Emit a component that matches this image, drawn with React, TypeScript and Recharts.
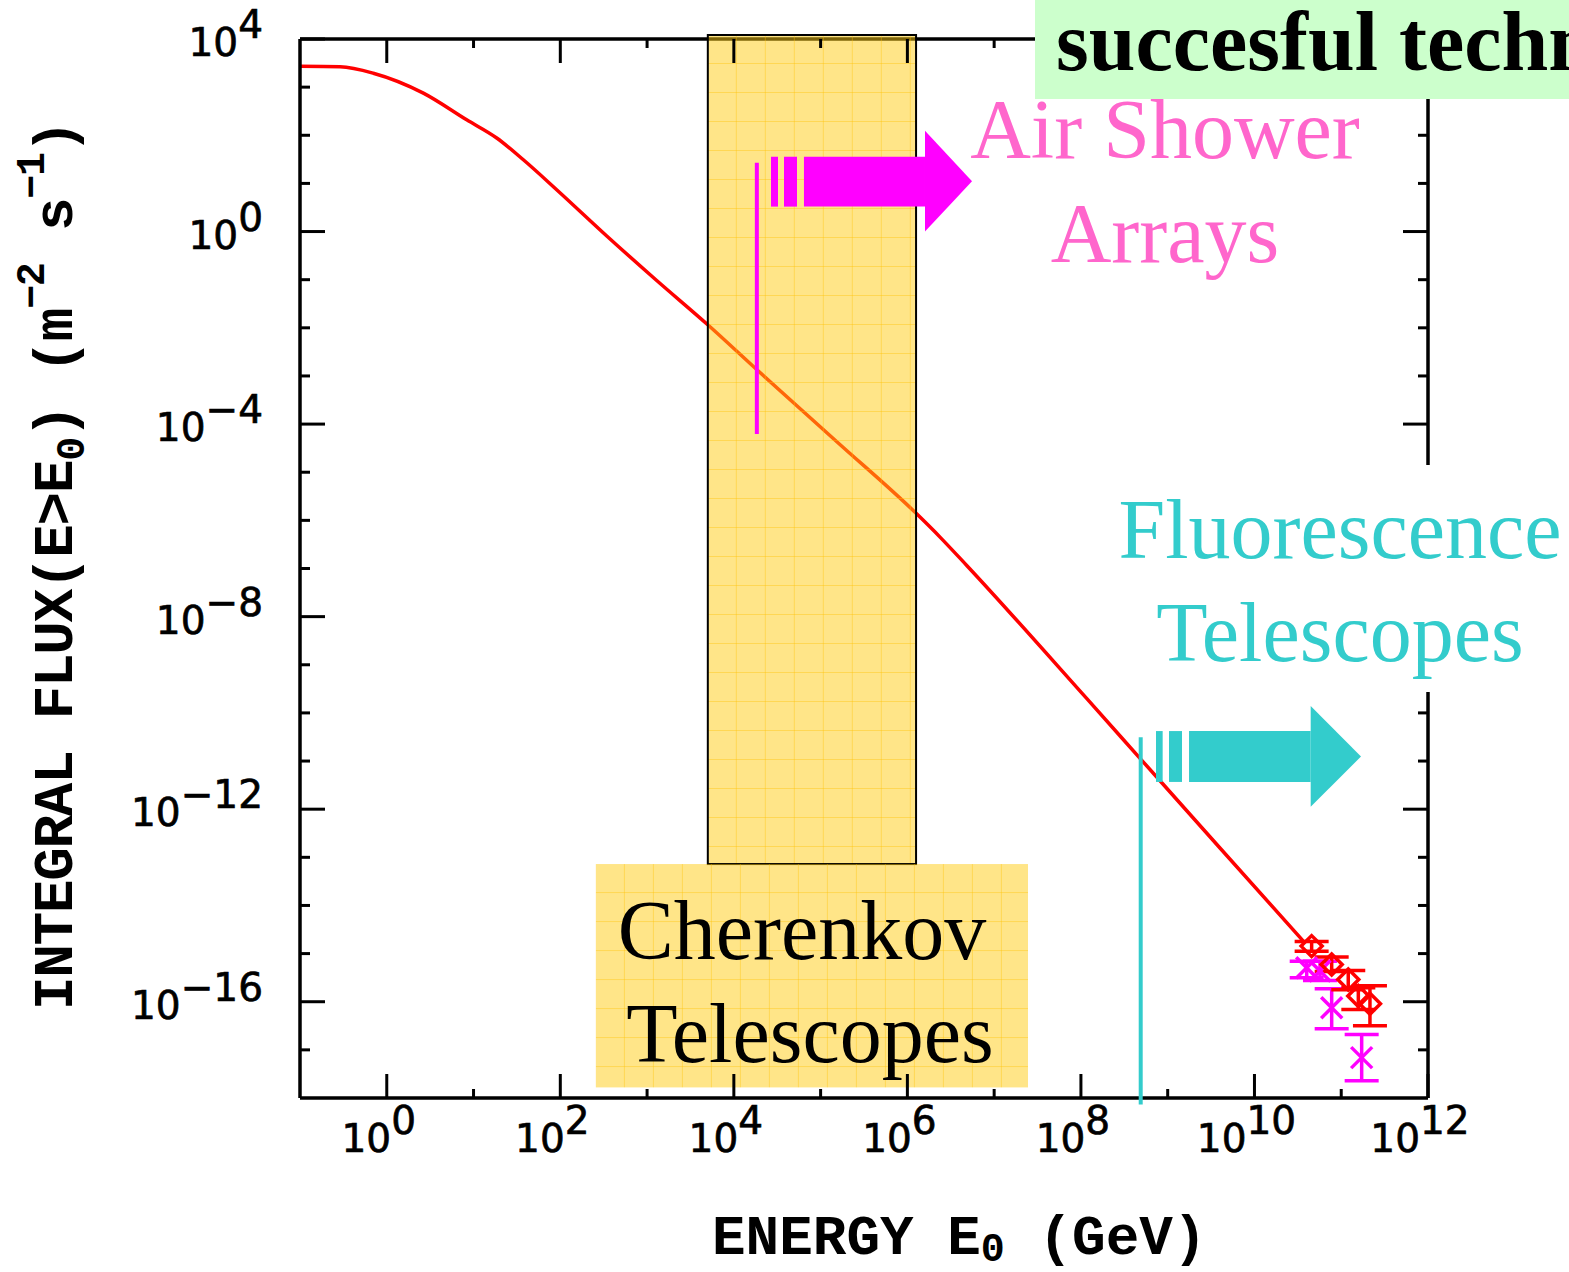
import React from 'react';
import {
  ComposedChart,
  Line,
  Scatter,
  XAxis,
  YAxis,
  ReferenceArea,
  ReferenceLine,
  ErrorBar,
} from 'recharts';

const W = 1569;
const H = 1272;

// ---- integral flux curve (GeV, m^-2 s^-1) ----
const curveEnergy = [0.1, 0.289, 0.7, 2.64, 8.34, 18.5, 37.5, 90.8, 343, 1291, 5082, 18323, 1.585e5, 1.279e6, 2.377e6, 4.83e6, 1.164e8, 4.797e8, 3.98e9, 3.656e10];
const curveFlux = [2700, 2640, 1945, 750, 209, 87.9, 31.0, 7.41, 0.81, 0.0962, 0.0113, 1.36e-3, 4.1e-5, 1.365e-6, 4.49e-7, 1.156e-7, 2.0e-10, 1.14e-11, 1.58e-13, 1.81e-15];

// ---- measured points, red diamonds ----
const redEnergy = [4.56e10, 7.76e10, 1.205e11, 1.574e11, 2.143e11];
const redFlux = [1.43e-15, 5.94e-16, 2.9e-16, 1.315e-16, 9.1e-17];
const redLow = [1.12e-15, 4.27e-16, 1.78e-16, 6.9e-17, 3.16e-17];
const redHigh = [1.78e-15, 8.5e-16, 4.47e-16, 1.95e-16, 2.14e-16];

// ---- measured points, magenta crosses ----
const magEnergy = [4.0e10, 5.69e10, 7.76e10, 1.72e11];
const magFlux = [5.07e-16, 4.33e-16, 7.52e-17, 6.9e-18];
const magLow = [3.16e-16, 2.75e-16, 2.75e-17, 2.29e-18];
const magHigh = [6.9e-16, 6.9e-16, 1.86e-16, 2.09e-17];

// ---- axis ticks ----
const xTicks = [1, 1e1, 1e2, 1e3, 1e4, 1e5, 1e6, 1e7, 1e8, 1e9, 1e10, 1e11, 1e12];
const yTicks = [1e-17, 1e-16, 1e-15, 1e-14, 1e-13, 1e-12, 1e-11, 1e-10, 1e-9, 1e-8, 1e-7, 1e-6, 1e-5, 1e-4, 1e-3, 1e-2, 1e-1, 1, 10, 100, 1e3, 1e4];

// ---- annotation regions, given as log10 exponents [E, flux] ----
const cherenkovBandX = [3.7, 6.1];
const cherenkovBandY = [-13.14, 4.083];
const cherenkovLabelX = [2.41, 7.39];
const cherenkovLabelY = [-17.78, -13.14];

const airLineE = 4.265;
const airLineY = [-4.207, 1.43];
const airBarsX = [[4.428, 4.509], [4.578, 4.728]];
const airBodyX = [4.808, 6.203];
const airHeadX = [6.203, 6.745];
const airBodyY = [0.518, 1.554];
const airHeadY = [0.0, 2.093];

const fluoLineE = 8.689;
const fluoLineY = [-18.135, -10.508];
const fluoBarsX = [[8.865, 8.942], [9.015, 9.165]];
const fluoBodyX = [9.246, 10.648];
const fluoHeadX = [10.648, 11.228];
const fluoBodyY = [-11.434, -10.377];
const fluoHeadY = [-11.952, -9.859];

const p10 = (v: number) => Math.pow(10, v);

const curveData = curveEnergy.map((e, i) => ({ e, f: curveFlux[i] }));
const redData = redEnergy.map((e, i) => ({ e, f: redFlux[i], err: [redFlux[i] - redLow[i], redHigh[i] - redFlux[i]] }));
const magData = magEnergy.map((e, i) => ({ e, f: magFlux[i], err: [magFlux[i] - magLow[i], magHigh[i] - magFlux[i]] }));

const MAGENTA = '#FF00FF';
const CYAN = '#33CCCC';
const RED = '#FF0000';

const exp = (v: number) => Math.round(Math.log10(v));
const fmtExp = (e: number) => (e < 0 ? '\u2212' + Math.abs(e) : String(e));

const tickFont = 'DejaVu Sans, sans-serif';
const TICK_FS = 39;

const BottomTick = (props: any) => {
  const { x, y, payload } = props;
  const e = exp(payload.value);
  const major = e % 2 === 0;
  const len = major ? 24 : 9;
  return (
    <g>
      <line x1={x} x2={x} y1={y} y2={y - len} stroke="#000" strokeWidth={3} />
      {major && (
        <text x={x - 8} y={y + 54} textAnchor="middle" fontFamily={tickFont} fontSize={TICK_FS} fill="#000" stroke="#000" strokeWidth={0.7}>
          10<tspan dy={-18}>{fmtExp(e)}</tspan>
        </text>
      )}
    </g>
  );
};

const TopTick = (props: any) => {
  const { x, y, payload } = props;
  const e = exp(payload.value);
  const len = e % 2 === 0 ? 24 : 9;
  return <line x1={x} x2={x} y1={y} y2={y + len} stroke="#000" strokeWidth={3} />;
};

const LeftTick = (props: any) => {
  const { x, y, payload } = props;
  const e = exp(payload.value);
  const major = e % 4 === 0;
  const len = major ? 25 : 10;
  return (
    <g>
      <line x1={x} x2={x + len} y1={y} y2={y} stroke="#000" strokeWidth={3} />
      {major && (
        <text x={x - 37} y={y + 17} textAnchor="end" fontFamily={tickFont} fontSize={TICK_FS} fill="#000" stroke="#000" strokeWidth={0.7}>
          10<tspan dy={-18}>{fmtExp(e)}</tspan>
        </text>
      )}
    </g>
  );
};

const RightTick = (props: any) => {
  const { x, y, payload } = props;
  const e = exp(payload.value);
  const len = e % 4 === 0 ? 25 : 10;
  return <line x1={x} x2={x - len} y1={y} y2={y} stroke="#000" strokeWidth={3} />;
};

const bandShape = (id: string, outline: boolean) => (p: any) => {
  const { x, y, width, height } = p;
  return (
    <g>
      <defs>
        <pattern id={id} x={x} y={y} width={29} height={29} patternUnits="userSpaceOnUse">
          <rect x={0} y={0} width={29} height={29} fill="rgba(255,204,17,0.5)" />
          <rect x={28.3} y={0} width={1.4} height={29} fill="rgba(255,192,0,0.55)" />
          <rect x={0} y={28.3} width={29} height={1.4} fill="rgba(255,192,0,0.55)" />
        </pattern>
      </defs>
      <rect
        x={x}
        y={y}
        width={width}
        height={height}
        fill={`url(#${id})`}
        stroke={outline ? '#000' : 'none'}
        strokeWidth={2}
      />
    </g>
  );
};

const headShape = (color: string) => (p: any) => {
  const { x, y, width, height } = p;
  return (
    <polygon
      points={`${x},${y} ${x + width},${y + height / 2} ${x},${y + height}`}
      fill={color}
      stroke="none"
    />
  );
};

const Diamond = (p: any) => {
  const { cx, cy } = p;
  if (cx == null || cy == null) return <g />;
  const r = 10.5;
  return (
    <polygon
      points={`${cx},${cy - r} ${cx + r},${cy} ${cx},${cy + r} ${cx - r},${cy}`}
      fill="none"
      stroke={RED}
      strokeWidth={3.5}
    />
  );
};

const Cross = (p: any) => {
  const { cx, cy } = p;
  if (cx == null || cy == null) return <g />;
  const r = 10.5;
  return (
    <g stroke={MAGENTA} strokeWidth={3.5}>
      <line x1={cx - r} y1={cy - r} x2={cx + r} y2={cy + r} />
      <line x1={cx - r} y1={cy + r} x2={cx + r} y2={cy - r} />
    </g>
  );
};

const solidArea = (key: string, xr: number[], yr: number[], color: string) => (
  <ReferenceArea
    key={key}
    xAxisId="bottom"
    yAxisId="left"
    x1={p10(xr[0])}
    x2={p10(xr[1])}
    y1={p10(yr[0])}
    y2={p10(yr[1])}
    fill={color}
    fillOpacity={1}
    stroke="none"
    ifOverflow="visible"
    {...({ zIndex: 700 } as any)}
  />
);

const monoFont = 'Liberation Mono, Courier New, monospace';
const serifFont = 'Liberation Serif, Times New Roman, serif';

const AX = 30; // axis band thickness reserved by recharts

export default function App() {
  return (
    <div style={{ position: 'absolute', left: 0, top: 0, width: W, height: H, overflow: 'hidden', background: '#fff' }}>
      <ComposedChart
        width={W}
        height={H}
        data={curveData}
        margin={{ top: 39 - AX, right: 141 - AX, bottom: 174 - AX, left: 300 - AX }}
      >
        <XAxis
          xAxisId="bottom"
          orientation="bottom"
          type="number"
          dataKey="e"
          scale="log"
          domain={[0.1, 1e12]}
          allowDataOverflow
          ticks={xTicks}
          interval={0}
          height={AX}
          tickSize={0}
          tickMargin={0}
          tickLine={false}
          axisLine={{ stroke: '#000', strokeWidth: 3.5 }}
          tick={<BottomTick />}
        />
        <XAxis
          xAxisId="top"
          orientation="top"
          type="number"
          dataKey="e"
          scale="log"
          domain={[0.1, 1e12]}
          allowDataOverflow
          ticks={xTicks}
          interval={0}
          height={AX}
          tickSize={0}
          tickMargin={0}
          tickLine={false}
          axisLine={{ stroke: '#000', strokeWidth: 3.5 }}
          tick={<TopTick />}
        />
        <YAxis
          yAxisId="left"
          orientation="left"
          type="number"
          dataKey="f"
          scale="log"
          domain={[1e-18, 1e4]}
          allowDataOverflow
          ticks={yTicks}
          interval={0}
          width={AX}
          tickSize={0}
          tickMargin={0}
          tickLine={false}
          axisLine={{ stroke: '#000', strokeWidth: 3.5 }}
          tick={<LeftTick />}
        />
        <YAxis
          yAxisId="right"
          orientation="right"
          type="number"
          dataKey="f"
          scale="log"
          domain={[1e-18, 1e4]}
          allowDataOverflow
          ticks={yTicks}
          interval={0}
          width={AX}
          tickSize={0}
          tickMargin={0}
          tickLine={false}
          axisLine={{ stroke: '#000', strokeWidth: 3.5 }}
          tick={<RightTick />}
        />

        <Line
          xAxisId="bottom"
          yAxisId="left"
          type="monotone"
          dataKey="f"
          stroke={RED}
          strokeWidth={3.5}
          dot={false}
          activeDot={false}
          isAnimationActive={false}
        />

        <Scatter xAxisId="bottom" yAxisId="left" data={magData} shape={<Cross />} isAnimationActive={false}>
          <ErrorBar dataKey="err" direction="y" width={17} stroke={MAGENTA} strokeWidth={3.5} isAnimationActive={false} />
        </Scatter>
        <Scatter xAxisId="bottom" yAxisId="left" data={redData} shape={<Diamond />} isAnimationActive={false}>
          <ErrorBar dataKey="err" direction="y" width={17} stroke={RED} strokeWidth={3.5} isAnimationActive={false} />
        </Scatter>

        <ReferenceArea
          xAxisId="bottom"
          yAxisId="left"
          x1={p10(cherenkovBandX[0])}
          x2={p10(cherenkovBandX[1])}
          y1={p10(cherenkovBandY[0])}
          y2={p10(cherenkovBandY[1])}
          ifOverflow="visible"
          shape={bandShape('bandPatA', true)}
          {...({ zIndex: 650 } as any)}
        />
        <ReferenceArea
          xAxisId="bottom"
          yAxisId="left"
          x1={p10(cherenkovLabelX[0])}
          x2={p10(cherenkovLabelX[1])}
          y1={p10(cherenkovLabelY[0])}
          y2={p10(cherenkovLabelY[1])}
          ifOverflow="visible"
          shape={bandShape('bandPatB', false)}
          {...({ zIndex: 650 } as any)}
        />

        <ReferenceLine
          xAxisId="bottom"
          yAxisId="left"
          segment={[
            { x: p10(airLineE), y: p10(airLineY[0]) },
            { x: p10(airLineE), y: p10(airLineY[1]) },
          ]}
          stroke={MAGENTA}
          strokeWidth={4}
          ifOverflow="visible"
          {...({ zIndex: 700 } as any)}
        />
        {airBarsX.map((b, i) => solidArea('ab' + i, b, airBodyY, MAGENTA))}
        {solidArea('abody', airBodyX, airBodyY, MAGENTA)}
        <ReferenceArea
          xAxisId="bottom"
          yAxisId="left"
          x1={p10(airHeadX[0])}
          x2={p10(airHeadX[1])}
          y1={p10(airHeadY[0])}
          y2={p10(airHeadY[1])}
          ifOverflow="visible"
          shape={headShape(MAGENTA)}
          {...({ zIndex: 700 } as any)}
        />

        <ReferenceLine
          xAxisId="bottom"
          yAxisId="left"
          segment={[
            { x: p10(fluoLineE), y: p10(fluoLineY[0]) },
            { x: p10(fluoLineE), y: p10(fluoLineY[1]) },
          ]}
          stroke={CYAN}
          strokeWidth={4}
          ifOverflow="visible"
          {...({ zIndex: 700 } as any)}
        />
        {fluoBarsX.map((b, i) => solidArea('fb' + i, b, fluoBodyY, CYAN))}
        {solidArea('fbody', fluoBodyX, fluoBodyY, CYAN)}
        <ReferenceArea
          xAxisId="bottom"
          yAxisId="left"
          x1={p10(fluoHeadX[0])}
          x2={p10(fluoHeadX[1])}
          y1={p10(fluoHeadY[0])}
          y2={p10(fluoHeadY[1])}
          ifOverflow="visible"
          shape={headShape(CYAN)}
          {...({ zIndex: 700 } as any)}
        />
      </ComposedChart>

      <svg
        width={W}
        height={H}
        style={{ position: 'absolute', left: 0, top: 0, pointerEvents: 'none' }}
      >
        {/* title box */}
        <rect x={1035} y={0} width={W - 1035} height={99} fill="#CCFFCC" />
        <text x={1056} y={70} fontFamily={serifFont} fontWeight="bold" fontSize={84} fill="#000" style={{ whiteSpace: 'pre' }}>
          succesful techniques
        </text>

        {/* Air shower arrays label */}
        <text x={1165} y={158} textAnchor="middle" fontFamily={serifFont} fontSize={84} fill="#FF66CC">
          Air Shower
        </text>
        <text x={1165} y={262} textAnchor="middle" fontFamily={serifFont} fontSize={84} fill="#FF66CC">
          Arrays
        </text>

        {/* Fluorescence label with white backing */}
        <rect x={1100} y={465} width={W - 1100} height={227} fill="#fff" />
        <text x={1340} y={558} textAnchor="middle" fontFamily={serifFont} fontSize={84} fill={CYAN}>
          Fluorescence
        </text>
        <text x={1340} y={661} textAnchor="middle" fontFamily={serifFont} fontSize={84} fill={CYAN}>
          Telescopes
        </text>

        {/* Cherenkov label */}
        <text x={802} y={959} textAnchor="middle" fontFamily={serifFont} fontSize={84} fill="#000">
          Cherenkov
        </text>
        <text x={810} y={1062} textAnchor="middle" fontFamily={serifFont} fontSize={84} fill="#000">
          Telescopes
        </text>

        {/* axis titles */}
        <text x={712} y={1254} fontFamily={monoFont} fontWeight="bold" fontSize={56} fill="#000" style={{ whiteSpace: 'pre' }}>
          ENERGY E
          <tspan fontSize={40} dy={7}>0</tspan>
          <tspan fontSize={56} dy={-7}>{' (GeV)'}</tspan>
        </text>
        <text
          x={72}
          y={1010}
          transform="rotate(-90 72 1010)"
          fontFamily={monoFont}
          fontWeight="bold"
          fontSize={56}
          letterSpacing={-1.3}
          fill="#000"
          style={{ whiteSpace: 'pre' }}
        >
          {'INTEGRAL FLUX(E>E'}
          <tspan fontSize={40} dy={12}>0</tspan>
          <tspan fontSize={56} dy={-12}>{') (m'}</tspan>
          <tspan fontSize={40} dy={-28}>{'\u22122'}</tspan>
          <tspan fontSize={56} dy={28}>{' s'}</tspan>
          <tspan fontSize={40} dy={-28}>{'\u22121'}</tspan>
          <tspan fontSize={56} dy={28}>{')'}</tspan>
        </text>
      </svg>
    </div>
  );
}
